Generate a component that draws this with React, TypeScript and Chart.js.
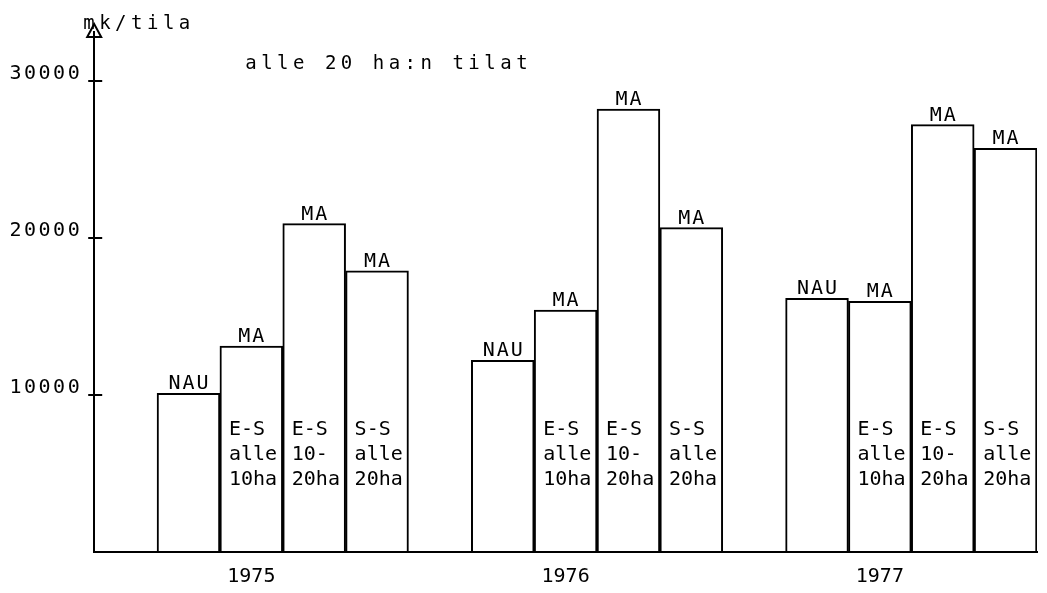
import React, { useEffect, useRef } from 'react';
import { Chart, registerables } from 'chart.js';

Chart.register(...registerables);

const years = ['1975', '1976', '1977'];
const topLabels = ['NAU', 'MA', 'MA', 'MA'];
const innerLabels = [[], ['E-S', 'alle', '10ha'], ['E-S', '10-', '20ha'], ['S-S', 'alle', '20ha']];
const values1975 = [10100, 13100, 20900, 17900];
const values1976 = [12200, 15400, 28200, 20650];
const values1977 = [16150, 15950, 27200, 25700];
const yTickValues = [10000, 20000, 30000];
const yUnit = 'mk/tila';
const chartTitle = 'alle 20 ha:n tilat';

const seriesByYear = [values1975, values1976, values1977];

// one empty slot before each group of four bars
const slotLabels: string[] = [];
const slotValues: (number | null)[] = [];
const slotTop: string[] = [];
const slotInner: string[][] = [];
years.forEach((yr, gi) => {
  slotLabels.push('');
  slotValues.push(null);
  slotTop.push('');
  slotInner.push([]);
  seriesByYear[gi].forEach((v, bi) => {
    slotLabels.push(bi === 1 ? yr : '');
    slotValues.push(v);
    slotTop.push(topLabels[bi]);
    slotInner.push(innerLabels[bi]);
  });
});

const FONT = "'DejaVu Sans Mono', monospace";

const decorPlugin = {
  id: 'plotterDecor',
  beforeDraw(chart: any) {
    chart.ctx.letterSpacing = '2.5px';
  },
  afterDatasetsDraw(chart: any) {
    const ctx = chart.ctx as any;
    ctx.letterSpacing = '0px';
    const area = chart.chartArea;
    const yScale = chart.scales.y;
    const meta = chart.getDatasetMeta(0);
    ctx.save();
    ctx.fillStyle = '#000';
    ctx.strokeStyle = '#000';

    meta.data.forEach((el: any, i: number) => {
      if (slotValues[i] == null) return;
      const { x, y, width } = el.getProps(['x', 'y', 'width'], true);
      ctx.font = `20px ${FONT}`;
      ctx.textBaseline = 'alphabetic';
      ctx.textAlign = 'center';
      ctx.letterSpacing = '2px';
      ctx.fillText(slotTop[i], x + 1, y - 4);
      ctx.letterSpacing = '0px';
      const lines = slotInner[i];
      if (lines.length) {
        ctx.save();
        ctx.beginPath();
        ctx.rect(x - width / 2 + 2, area.top, width - 4, area.bottom - area.top);
        ctx.clip();
        ctx.textAlign = 'left';
        lines.forEach((t: string, li: number) => {
          ctx.fillText(t, x - width / 2 + 9, area.bottom - 117 + li * 25);
        });
        ctx.restore();
      }
    });

    ctx.lineWidth = 2;
    yTickValues.forEach((v) => {
      const py = Math.round(yScale.getPixelForValue(v));
      ctx.beginPath();
      ctx.moveTo(area.left - 6, py);
      ctx.lineTo(area.left + 8, py);
      ctx.stroke();
    });

    ctx.beginPath();
    ctx.moveTo(area.left, area.top - 8);
    ctx.lineTo(area.left - 7, area.top + 5);
    ctx.lineTo(area.left + 7, area.top + 5);
    ctx.closePath();
    ctx.stroke();

    ctx.font = `19px ${FONT}`;
    ctx.textAlign = 'left';
    ctx.letterSpacing = '4.5px';
    ctx.fillText(yUnit, area.left - 11, area.top - 3);
    ctx.fillText(chartTitle, area.left + 151, area.top + 37);
    ctx.letterSpacing = '0px';
    ctx.restore();
  },
};

export default function App() {
  const ref = useRef<HTMLCanvasElement | null>(null);
  useEffect(() => {
    if (!ref.current) return;
    const chart = new Chart(ref.current, {
      type: 'bar',
      data: {
        labels: slotLabels,
        datasets: [
          {
            data: slotValues,
            backgroundColor: '#ffffff',
            borderColor: '#000000',
            borderWidth: { top: 2, left: 2, right: 2, bottom: 0 },
            borderSkipped: 'bottom',
            barPercentage: 1,
            categoryPercentage: 1,
          },
        ],
      },
      options: {
        animation: false,
        responsive: true,
        maintainAspectRatio: false,
        layout: { padding: { top: 20, right: 2, left: 2, bottom: 0 } },
        plugins: { legend: { display: false }, tooltip: { enabled: false }, title: { display: false } },
        scales: {
          x: {
            type: 'category',
            offset: true,
            grid: { display: false, drawTicks: false },
            border: { display: true, color: '#000', width: 2, z: 1 },
            ticks: {
              z: 1,
              autoSkip: false,
              maxRotation: 0,
              padding: 13,
              color: '#000',
              font: { family: FONT, size: 20 },
              callback: (_v: any, i: number) => slotLabels[i],
            },
            afterFit: (s: any) => {
              s.height = 33;
            },
          },
          y: {
            type: 'linear',
            position: 'left',
            min: 0,
            max: 33100,
            grid: { display: false, drawTicks: false },
            border: { display: true, color: '#000', width: 2 },
            afterBuildTicks: (s: any) => {
              s.ticks = yTickValues.map((v) => ({ value: v }));
            },
            ticks: {
              autoSkip: false,
              padding: 12,
              labelOffset: -7,
              color: '#000',
              font: { family: FONT, size: 20 },
              callback: (v: any) => String(v),
            },
          },
        },
      },
      plugins: [decorPlugin],
    });
    return () => chart.destroy();
  }, []);
  return (
    <div style={{ position: 'relative', width: 1031, height: 577 }}>
      <canvas ref={ref} />
    </div>
  );
}
